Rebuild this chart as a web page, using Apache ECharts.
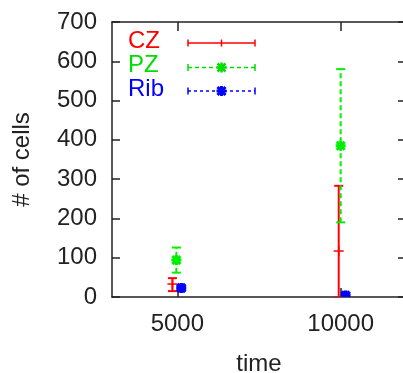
<!DOCTYPE html>
<html>
<head>
<meta charset="utf-8">
<script src="https://cdn.jsdelivr.net/npm/echarts@6/dist/echarts.min.js"></script>
<style>
html,body{margin:0;padding:0;background:#fff;overflow:hidden;}
#c{width:403px;height:373px;}
</style>
</head>
<body>
<div id="c"></div>
<script>
// ---- data ----
const seriesNames = ['CZ', 'PZ', 'Rib'];
const xTickValues = [5000, 10000];
const yTickValues = [0, 100, 200, 300, 400, 500, 600, 700];

const czTime = [4850, 9940];
const czVal  = [33, 117];
const czLow  = [15, 0];
const czHigh = [48, 283];

const pzTime = [4970, 10000];
const pzVal  = [94, 385];
const pzLow  = [62, 190];
const pzHigh = [126, 580];

const ribTime = [5120, 10150];
const ribVal  = [23, 4];
const ribLow  = [19, 1];
const ribHigh = [27, 7];

// ---- helpers ----
function rows(t, v, lo, hi) {
  return t.map((x, i) => [x, v[i], lo[i], hi[i]]);
}

function markerShapes(kind, cx, cy, color, lw) {
  const s = [];
  const r = 5;
  const st = { stroke: color, lineWidth: lw, fill: null };
  s.push({ type: 'line', shape: { x1: cx - r, y1: cy, x2: cx + r, y2: cy }, style: st });
  s.push({ type: 'line', shape: { x1: cx, y1: cy - r, x2: cx, y2: cy + r }, style: st });
  if (kind === 'star') {
    const d = r * 0.8;
    s.push({ type: 'line', shape: { x1: cx - d, y1: cy - d, x2: cx + d, y2: cy + d }, style: st });
    s.push({ type: 'line', shape: { x1: cx - d, y1: cy + d, x2: cx + d, y2: cy - d }, style: st });
  }
  return s;
}

function makeRender(color, dash, marker, mlw) {
  return function (params, api) {
    const x = api.value(0), y = api.value(1), lo = api.value(2), hi = api.value(3);
    const p = api.coord([x, y]);
    const pl = api.coord([x, lo]);
    const ph = api.coord([x, hi]);
    const cap = 4.5;
    const ls = { stroke: color, lineWidth: 2, lineDash: dash, fill: null };
    const cs = { stroke: color, lineWidth: 2, fill: null };
    const children = [
      { type: 'line', shape: { x1: pl[0], y1: pl[1], x2: ph[0], y2: ph[1] }, style: ls },
      { type: 'line', shape: { x1: pl[0] - cap, y1: pl[1], x2: pl[0] + cap, y2: pl[1] }, style: cs },
      { type: 'line', shape: { x1: ph[0] - cap, y1: ph[1], x2: ph[0] + cap, y2: ph[1] }, style: cs }
    ].concat(markerShapes(marker, p[0], p[1], color, mlw));
    return { type: 'group', children: children };
  };
}

// legend sample drawn as graphic
function legendSample(y, color, dash, marker, mlw, label) {
  const x1 = 188, x2 = 255, xm = 221.5, cap = 3.5;
  const ls = { stroke: color, lineWidth: 1.5, lineDash: dash, fill: null };
  const cs = { stroke: color, lineWidth: 1.5, fill: null };
  const items = [
    { type: 'text', left: 128, top: y - 14, style: { text: label, fill: color, font: '24px "Liberation Sans", Arial, sans-serif' } },
    { type: 'line', shape: { x1: x1, y1: y, x2: x2, y2: y }, style: ls },
    { type: 'line', shape: { x1: x1, y1: y - cap, x2: x1, y2: y + cap }, style: cs },
    { type: 'line', shape: { x1: x2, y1: y - cap, x2: x2, y2: y + cap }, style: cs }
  ];
  if (marker === 'plus') {
    items.push({ type: 'line', shape: { x1: xm, y1: y - cap, x2: xm, y2: y + cap }, style: cs });
  } else {
    markerShapes(marker, xm, y, color, mlw).forEach(m => items.push(m));
  }
  return items;
}

const axisCol = '#222';
const textCol = '#222';
const font = '"Liberation Sans", Arial, sans-serif';

const xCommon = {
  type: 'value', min: 3000, max: 12000,
  axisLine: { show: true, onZero: false, lineStyle: { color: axisCol, width: 1.5 } },
  axisTick: { show: true, inside: true, length: 9, customValues: xTickValues, lineStyle: { color: axisCol, width: 1.5 } },
  splitLine: { show: false }
};
const yCommon = {
  type: 'value', min: 0, max: 700, interval: 100,
  axisLine: { show: true, onZero: false, lineStyle: { color: axisCol, width: 1.5 } },
  axisTick: { show: true, inside: true, length: 8, lineStyle: { color: axisCol, width: 1.5 } },
  splitLine: { show: false }
};

const chart = echarts.init(document.getElementById('c'), null, { renderer: 'canvas' });
chart.setOption({
  animation: false,
  backgroundColor: '#fff',
  grid: { left: 112, top: 22, right: -3, bottom: 76, containLabel: false, outerBoundsMode: 'none' },
  xAxis: [
    Object.assign({}, xCommon, {
      position: 'bottom',
      axisLabel: { customValues: xTickValues, formatter: v => String(v), fontSize: 24, fontFamily: font, color: textCol, margin: 15 },
      name: 'time', nameLocation: 'middle', nameGap: 55,
      nameTextStyle: { fontSize: 24, fontFamily: font, color: textCol }
    }),
    Object.assign({}, xCommon, { position: 'top', axisLabel: { show: false } })
  ],
  yAxis: [
    Object.assign({}, yCommon, {
      position: 'left',
      axisLabel: { formatter: v => String(v), fontSize: 24, fontFamily: font, color: textCol, margin: 15 },
      name: '# of cells', nameLocation: 'middle', nameGap: 78,
      nameTextStyle: { fontSize: 24, fontFamily: font, color: textCol }
    }),
    Object.assign({}, yCommon, { position: 'right', axisLabel: { show: false } })
  ],
  graphic: [].concat(
    legendSample(43, '#ff0000', null, 'plus', 1.5, seriesNames[0]),
    legendSample(67.5, '#00dd00', [4, 3], 'star', 2.5, seriesNames[1]),
    legendSample(91, '#0000ff', [3, 3], 'star', 3, seriesNames[2])
  ),
  series: [
    { name: seriesNames[0], type: 'custom', clip: true, renderItem: makeRender('#ff0000', null, 'plus', 1.5),
      encode: { x: 0, y: [1, 2, 3] }, data: rows(czTime, czVal, czLow, czHigh) },
    { name: seriesNames[1], type: 'custom', clip: true, renderItem: makeRender('#00ee00', [5, 3], 'star', 3),
      encode: { x: 0, y: [1, 2, 3] }, data: rows(pzTime, pzVal, pzLow, pzHigh) },
    { name: seriesNames[2], type: 'custom', clip: true, renderItem: makeRender('#0000ff', [3, 3], 'star', 3.5),
      encode: { x: 0, y: [1, 2, 3] }, data: rows(ribTime, ribVal, ribLow, ribHigh) }
  ]
});
</script>
</body>
</html>
